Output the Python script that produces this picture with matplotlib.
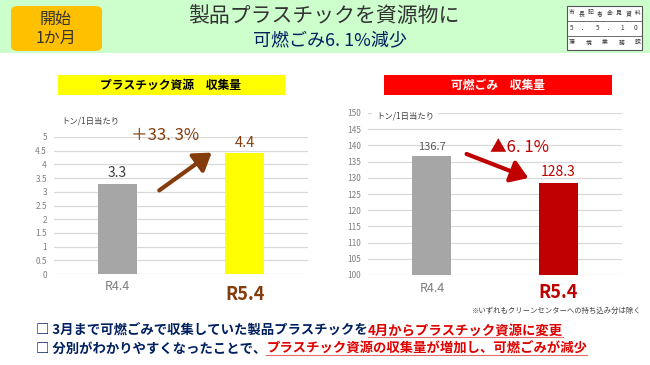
import matplotlib
matplotlib.use("Agg")
import matplotlib.pyplot as plt
from matplotlib.patches import Rectangle, FancyBboxPatch, FancyArrowPatch
from matplotlib.lines import Line2D

plt.rcParams['font.family'] = ['Noto Sans CJK JP', 'DejaVu Sans']

# ---- data ----
categories = ["R4.4", "R5.4"]
plastic_values = [3.3, 4.4]
burnable_values = [136.7, 128.3]
plastic_ticks = [0, 0.5, 1, 1.5, 2, 2.5, 3, 3.5, 4, 4.5, 5]
burnable_ticks = [100, 105, 110, 115, 120, 125, 130, 135, 140, 145, 150]
plastic_change = "＋33. 3%"
burnable_change = "▲6. 1%"

W, H = 650, 365
fig = plt.figure(figsize=(6.5, 3.65), dpi=100)
fig.patch.set_facecolor("white")

def fx(x):
    return x / W

def fy(y):
    return 1 - y / H

def T(x, y, s, **kw):
    kw.setdefault("ha", "center")
    kw.setdefault("va", "center")
    return fig.text(fx(x), fy(y), s, **kw)

def R(x0, y0, x1, y1, **kw):
    fig.patches.append(Rectangle((fx(x0), fy(y1)), fx(x1) - fx(x0), fy(y0) - fy(y1),
                                 transform=fig.transFigure, **kw))

# ---- header ----
R(0, 0, 650, 53, facecolor="#CCFFCC", edgecolor="none")
fig.patches.append(FancyBboxPatch((fx(11), fy(51)), fx(91), fy(6) - fy(51),
                                  boxstyle="round,pad=0,rounding_size=0.012",
                                  transform=fig.transFigure, facecolor="#FFC000",
                                  edgecolor="none"))
T(56, 19, "開始", fontsize=11.5, color="#333333")
T(56, 38, "1か月", fontsize=11.5, color="#333333")
T(324, 16, "製品プラスチックを資源物に", fontsize=15, color="#333333")
T(330, 40, "可燃ごみ6. 1%減少", fontsize=13, color="#002060")

# press box
R(567, 6, 642, 50, facecolor="white", edgecolor="#555555", linewidth=0.8)
for yy in (20.5, 35.5):
    fig.add_artist(Line2D([fx(567), fx(642)], [fy(yy), fy(yy)], color="#555555", linewidth=0.6))
for i, ch in enumerate("市長記者会見資料"):
    T(572 + i * 9.4, 13, ch, fontsize=4.2, color="#333333")
for i, ch in enumerate("5．5．10"):
    T(572 + i * 12.6, 28, ch, fontsize=4.6, color="#333333")
for i, ch in enumerate("環境業務課"):
    T(572 + i * 16.5, 43, ch, fontsize=4.2, color="#333333")

# ---- chart title boxes ----
R(58, 75, 285, 95, facecolor="#FFFF00", edgecolor="none")
T(171, 85, "プラスチック資源　収集量", fontsize=8.5, color="black", fontweight="bold")
R(384, 75, 612, 95, facecolor="#FF0000", edgecolor="none")
T(498, 85, "可燃ごみ　収集量", fontsize=8.5, color="white", fontweight="bold")

grid_c = "#D9D9D9"
tick_c = "#808080"

def style(ax, ticks, lo, hi):
    ax.set_ylim(lo, hi)
    ax.set_xlim(-0.5, 1.5)
    ax.set_yticks(ticks)
    ax.set_yticklabels([f"{t:g}" for t in ticks])
    ax.yaxis.grid(True, color=grid_c, linewidth=0.9)
    ax.set_axisbelow(True)
    for s in ax.spines.values():
        s.set_visible(False)
    ax.tick_params(axis="y", length=0, labelsize=6, labelcolor=tick_c, pad=5)
    ax.set_xticks([])
    ax.patch.set_alpha(0)

# ---- left chart ----
axL = fig.add_axes([fx(54), fy(274), fx(308) - fx(54), fy(137) - fy(274)])
style(axL, plastic_ticks, 0, 5)
axL.bar([0, 1], plastic_values, width=0.31, color=["#A6A6A6", "#FFFF00"])
axL.text(0, plastic_values[0] + 0.12, f"{plastic_values[0]:g}", ha="center", va="bottom",
         fontsize=10, color="#404040")
axL.text(1, plastic_values[1] + 0.12, f"{plastic_values[1]:g}", ha="center", va="bottom",
         fontsize=10.5, color="#843C0C")
T(90, 121, "トン/1日当たり", fontsize=6, color="#404040")
T(165, 136, plastic_change, fontsize=12, color="#843C0C")
fig.add_artist(FancyArrowPatch((fx(157), fy(192)), (fx(214), fy(151)),
                               transform=fig.transFigure, arrowstyle="-|>,head_length=6,head_width=4",
                               color="#843C0C", linewidth=3, mutation_scale=1.7))
T(117, 287, categories[0], fontsize=9, color="#7F7F7F")
T(245, 295, categories[1], fontsize=13, color="#843C0C", fontweight="bold")

# ---- right chart ----
axR = fig.add_axes([fx(368), fy(275), fx(622) - fx(368), fy(113) - fy(275)])
style(axR, burnable_ticks, 100, 150)
axR.bar([0, 1], burnable_values, width=0.31, color=["#A6A6A6", "#C00000"])
axR.text(0, burnable_values[0] + 1.3, f"{burnable_values[0]:g}", ha="center", va="bottom",
         fontsize=8, color="#595959")
axR.text(1, burnable_values[1] + 1.3, f"{burnable_values[1]:g}", ha="center", va="bottom",
         fontsize=10, color="#C00000")
T(405, 116, "トン/1日当たり", fontsize=6, color="#404040",
  bbox=dict(facecolor="white", edgecolor="none", pad=3))
T(519, 148, burnable_change, fontsize=12, color="#C00000")
fig.add_artist(FancyArrowPatch((fx(464), fy(153)), (fx(531), fy(179)),
                               transform=fig.transFigure, arrowstyle="-|>,head_length=6,head_width=4",
                               color="#C00000", linewidth=3, mutation_scale=1.7))
T(432, 288, categories[0], fontsize=9, color="#7F7F7F")
T(558, 293, categories[1], fontsize=13, color="#C00000", fontweight="bold")

T(642, 311, "※いずれもクリーンセンターへの持ち込み分は除く", fontsize=5.3, color="#404040", ha="right")

# ---- bottom message lines ----
renderer = fig.canvas.get_renderer()
fig_w_px = fig.dpi * fig.get_figwidth()
fig_h_px = fig.dpi * fig.get_figheight()

def multi(x, y, parts):
    cur = x
    for s, col, ul in parts:
        t = fig.text(fx(cur), fy(y), s, ha="left", va="center", fontsize=9.6,
                     color=col, fontweight="bold")
        bb = t.get_window_extent(renderer)
        if ul:
            yb = bb.y0 / fig_h_px + 0.003
            fig.add_artist(Line2D([bb.x0 / fig_w_px, bb.x1 / fig_w_px], [yb, yb],
                                  color="#E46C6C", linewidth=0.8))
        cur = bb.x1 / fig_w_px * W

navy = "#002060"
red = "#E00000"
multi(36, 331, [("□ 3月まで可燃ごみで収集していた製品プラスチックを", navy, False),
                ("4月からプラスチック資源に変更", red, True)])
multi(36, 349, [("□ 分別がわかりやすくなったことで、", navy, False),
                ("プラスチック資源の収集量が増加し、可燃ごみが減少", red, True)])

fig.savefig("out.png", dpi=100)
